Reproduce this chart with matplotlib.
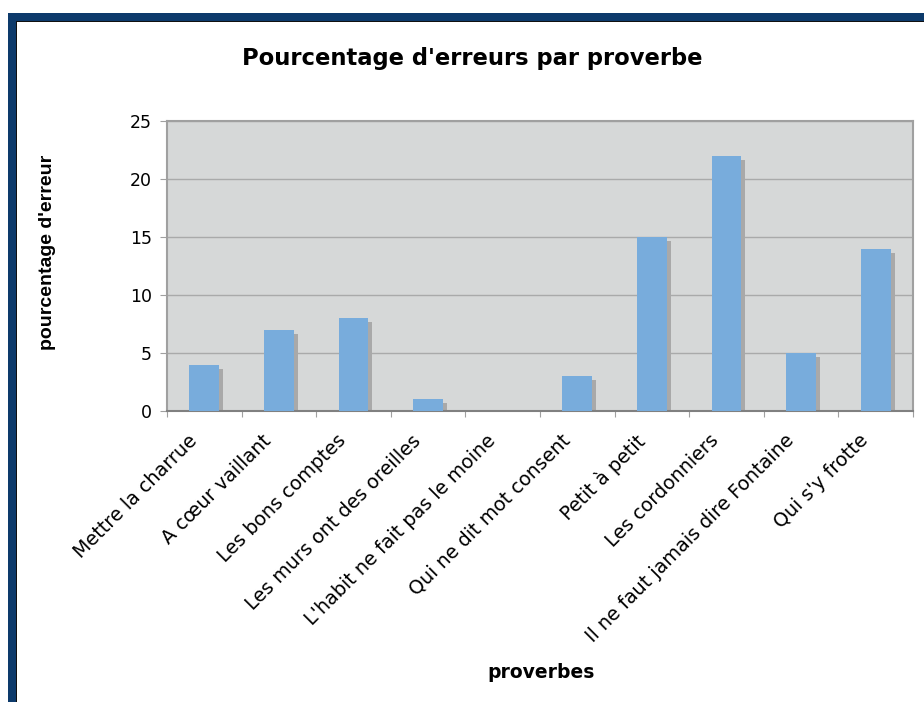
import matplotlib
matplotlib.use("Agg")
import matplotlib.pyplot as plt
from matplotlib.patches import Rectangle
from matplotlib.transforms import ScaledTranslation
import numpy as np

categories = ["Mettre la charrue", "A cœur vaillant", "Les bons comptes",
              "Les murs ont des oreilles", "L'habit ne fait pas le moine",
              "Qui ne dit mot consent", "Petit à petit", "Les cordonniers",
              "Il ne faut jamais dire Fontaine", "Qui s'y frotte"]
values = [4, 7, 8, 1, 0, 3, 15, 22, 5, 14]
yticks = [0, 5, 10, 15, 20, 25]

plt.rcParams['font.family'] = ['DejaVu Sans']
fig = plt.figure(figsize=(9.24, 7.02), dpi=100)
fig.patch.set_facecolor('white')

# navy frame (left and top)
W, H = 924, 702
fig.add_artist(Rectangle((8 / W, 0), 8 / W, 1 - 13 / H, transform=fig.transFigure,
                         facecolor='#0d3a6b', edgecolor='none'))
fig.add_artist(Rectangle((8 / W, 1 - 21 / H), 1, 8 / H, transform=fig.transFigure,
                         facecolor='#0d3a6b', edgecolor='none'))
fig.add_artist(Rectangle((16 / W, 1 - 22 / H), 1, 1 / H, transform=fig.transFigure,
                         facecolor='#111111', edgecolor='none'))
fig.add_artist(Rectangle((16 / W, 0), 1 / W, 1 - 21 / H, transform=fig.transFigure,
                         facecolor='#111111', edgecolor='none'))

ax = fig.add_axes([167 / W, 1 - 411 / H, (913 - 167) / W, (411 - 121) / H])
ax.set_facecolor('#d6d8d8')
x = np.arange(len(categories))
width = 0.40

shadow = ax.bar(x, values, width=width, color='#a9a9a9', zorder=2)
off = ScaledTranslation(4 / 100, -4 / 100, fig.dpi_scale_trans)
for p in shadow:
    p.set_transform(ax.transData + off)
ax.bar(x, values, width=width, color='#78acdc', zorder=3)

ax.set_xlim(-0.5, len(categories) - 0.5)
ax.set_ylim(0, 25)
ax.set_yticks(yticks)
ax.yaxis.grid(True, color='#a9aaaa', linewidth=1.0, zorder=1)
ax.set_axisbelow(True)
ax.tick_params(axis='y', labelsize=12.5, length=5, color='#a0a0a0', pad=6)

ax.set_xticks(np.arange(-0.5, len(categories) + 0.5, 1.0))
ax.set_xticklabels([])
ax.tick_params(axis='x', which='major', length=4, color='#a0a0a0')

for xi, cat in zip(x, categories):
    ax.annotate(cat, xy=(xi, 0), xycoords=('data', 'axes fraction'),
                xytext=(-17, -20), textcoords='offset pixels',
                rotation=45, ha='right', va='top', rotation_mode='anchor',
                fontsize=13.8, annotation_clip=False)

for s in ['top', 'right', 'left']:
    ax.spines[s].set_color('#a0a0a0')
    ax.spines[s].set_linewidth(1.5)
ax.spines['bottom'].set_color('#808080')
ax.spines['bottom'].set_linewidth(1.5)

fig.text(472 / W, 1 - 58 / H, "Pourcentage d'erreurs par proverbe",
         ha='center', va='center', fontsize=16.3, fontweight='bold')
fig.text(48 / W, 1 - 252 / H, "pourcentage d'erreur", rotation=90,
         ha='center', va='center', fontsize=14, fontweight='bold',
         family=['Liberation Sans'])
fig.text(541 / W, 1 - 672 / H, "proverbes", ha='center', va='center',
         fontsize=13.5, fontweight='bold')

fig.savefig("out.png", dpi=100)
